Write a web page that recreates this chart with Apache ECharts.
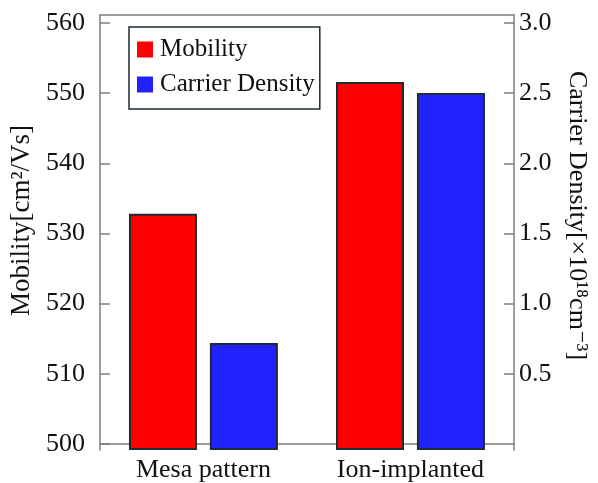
<!DOCTYPE html>
<html>
<head>
<meta charset="utf-8">
<script src="https://cdn.jsdelivr.net/npm/echarts@6/dist/echarts.min.js"></script>
<style>
html,body{margin:0;padding:0;background:#fff;}
#c{width:598px;height:483px;}
</style>
</head>
<body>
<div id="c"></div>
<script>
var categories = ['Mesa pattern', 'Ion-implanted'];
var mobility = [532.8, 551.6];
var carrierDensity = [0.72, 2.50];
var mobilityTicks = [500, 510, 520, 530, 540, 550, 560];
var densityTicks = [0.5, 1.0, 1.5, 2.0, 2.5, 3.0];

var FONT = '"Liberation Serif", "DejaVu Serif", serif';
var AX = '#7f7f7f';

var chart = echarts.init(document.getElementById('c'), null, {renderer: 'canvas'});
chart.setOption({
  animation: false,
  backgroundColor: '#ffffff',
  grid: {left: 95, right: 76, top: 15, bottom: 30, containLabel: false},
  legend: {
    orient: 'vertical',
    left: 129, top: 27,
    padding: [10, 5, 12, 8],
    itemWidth: 16, itemHeight: 16, itemGap: 10,
    borderColor: '#1d2b35', borderWidth: 1.5,
    icon: 'rect',
    itemStyle: {borderWidth: 0},
    textStyle: {fontFamily: FONT, fontSize: 25, color: '#111', padding: [0, 0, 0, 2]},
    data: ['Mobility', 'Carrier Density']
  },
  xAxis: [{
    type: 'category', data: categories, position: 'bottom',
    axisLine: {lineStyle: {color: AX, width: 1.5}},
    axisTick: {show: false},
    axisLabel: {fontFamily: FONT, fontSize: 26, color: '#111', margin: 7}
  }, {
    type: 'category', data: categories, position: 'top',
    axisLine: {lineStyle: {color: AX, width: 1.5}},
    axisTick: {show: false}, axisLabel: {show: false}
  }],
  yAxis: [{
    type: 'value', position: 'left',
    min: 499.15, max: 561.13, startValue: 499.15,
    name: 'Mobility[cm²/Vs]', nameLocation: 'middle', nameGap: 53,
    nameTextStyle: {fontFamily: FONT, fontSize: 27, color: '#111', padding: [0, 0, 0, 24]},
    axisLine: {show: true, lineStyle: {color: AX, width: 1.5}},
    axisTick: {show: true, inside: true, length: 10, lineStyle: {color: AX, width: 1.5}, customValues: mobilityTicks},
    axisLabel: {fontFamily: FONT, fontSize: 26, color: '#111', margin: 15, customValues: mobilityTicks},
    splitLine: {show: false}
  }, {
    type: 'value', position: 'right',
    min: -0.0425, max: 3.0565, startValue: -0.0425,
    name: 'Carrier Density[×10¹⁸cm⁻³]', nameLocation: 'middle', nameGap: 50, nameRotate: -90,
    nameTextStyle: {fontFamily: FONT, fontSize: 26, color: '#111', padding: [0, 34, 0, 0]},
    axisLine: {show: true, lineStyle: {color: AX, width: 1.5}},
    axisTick: {show: true, inside: true, length: 10, lineStyle: {color: AX, width: 1.5}, customValues: densityTicks},
    axisLabel: {fontFamily: FONT, fontSize: 26, color: '#111', margin: 5, customValues: densityTicks,
      formatter: function (v) { return v.toFixed(1); }},
    splitLine: {show: false}
  }],
  series: [{
    name: 'Mobility', type: 'bar', xAxisIndex: 0, yAxisIndex: 0,
    data: mobility, barWidth: 68, barGap: '19%',
    itemStyle: {color: '#ff0000', borderColor: '#1d2b35', borderWidth: 2}
  }, {
    name: 'Carrier Density', type: 'bar', xAxisIndex: 0, yAxisIndex: 1,
    data: carrierDensity, barWidth: 68, barGap: '19%',
    itemStyle: {color: '#2222ff', borderColor: '#1d2b35', borderWidth: 2}
  }]
});
</script>
</body>
</html>
